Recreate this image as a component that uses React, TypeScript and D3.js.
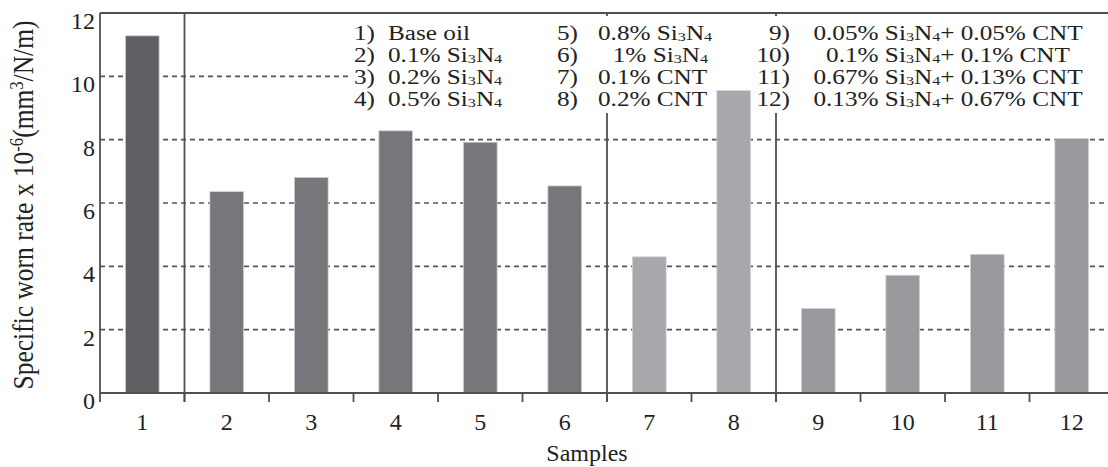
import React from "react";
import * as d3 from "d3";

const samples = ["1", "2", "3", "4", "5", "6", "7", "8", "9", "10", "11", "12"];
const wearRate = [11.28, 6.36, 6.81, 8.28, 7.92, 6.54, 4.3, 9.55, 2.67, 3.72, 4.38, 8.04];
const sampleGroup = [0, 1, 1, 1, 1, 1, 2, 2, 3, 3, 3, 3];
const groupColors = ["#5e6063", "#76777b", "#a6a8ab", "#97999c"];
const yTicks = [0, 2, 4, 6, 8, 10, 12];
const dividerAfter = ["1", "6", "8"];

const legendCol1 = ["Base oil", "0.1% Si_3N_4", "0.2% Si_3N_4", "0.5% Si_3N_4"];
const legendCol2 = ["0.8% Si_3N_4", "1% Si_3N_4", "0.1% CNT", "0.2% CNT"];
const legendCol3 = [
  "0.05% Si_3N_4+ 0.05% CNT",
  "0.1% Si_3N_4+ 0.1% CNT",
  "0.67% Si_3N_4+ 0.13% CNT",
  "0.13% Si_3N_4+ 0.67% CNT",
];

const W = 1108;
const H = 467;
const left = 100;
const top = 13;
const bottom = 393;
const FONT = "Liberation Serif, Times New Roman, serif";
const INK = "#222";
const AXIS = "#505050";

const LINE0 = 40;
const LINE_H = 22;
const SX = 1.23;
const LFS = 20.5;

function chemLine(str: string, lx: number, ly: number, anchor: string, key: string) {
  const parts = str.split(/(_\d)/).filter((p) => p.length > 0);
  return parts.map((p, i) => {
    const isSub = p.startsWith("_");
    const dy = isSub ? 1.5 : i > 0 && parts[i - 1].startsWith("_") ? -1.5 : 0;
    const props: any = { key: key + "-" + i };
    if (i === 0) {
      props.x = lx;
      props.y = ly;
      props.textAnchor = anchor;
    } else {
      props.dy = dy;
    }
    if (isSub) props.fontSize = "64%";
    return <tspan {...props}>{isSub ? p.slice(1) : p}</tspan>;
  });
}

function LegendColumn({
  items,
  firstNum,
  numX,
  textX,
  anchors,
  offsets,
}: {
  items: string[];
  firstNum: number;
  numX: number;
  textX: number;
  anchors: string[];
  offsets: number[];
}) {
  return (
    <g>
      <text
        transform={`translate(${numX},0) scale(${SX},1)`}
        textAnchor="end"
        fontFamily={FONT}
        fontSize={LFS}
        fill={INK}
      >
        {items.map((_, i) => (
          <tspan key={i} x={0} y={LINE0 + i * LINE_H}>
            {`${firstNum + i})`}
          </tspan>
        ))}
      </text>
      <text
        transform={`translate(${textX},0) scale(${SX},1)`}
        fontFamily={FONT}
        fontSize={LFS}
        fill={INK}
      >
        {items.map((t, i) =>
          chemLine(t, offsets[i] / SX, LINE0 + i * LINE_H, anchors[i], "r" + i)
        )}
      </text>
    </g>
  );
}

export default function App() {
  const x = d3.scaleBand<string>().domain(samples).range([left, 1114]).padding(0);
  const y = d3.scaleLinear().domain([0, 12]).range([bottom, top]);
  const bw = x.bandwidth();
  const barW = bw * 0.4;

  return (
    <svg
      width={W}
      height={H}
      style={{ position: "absolute", left: 0, top: 0, background: "#fff" }}
    >
      {yTicks
        .filter((t) => t > 0 && t < 12)
        .map((t) => (
          <line
            key={"g" + t}
            x1={left}
            x2={W}
            y1={y(t)}
            y2={y(t)}
            stroke="#555"
            strokeWidth={1.6}
            strokeDasharray="5,4"
          />
        ))}
      {dividerAfter.map((s) => {
        const xv = (x(s) as number) + bw;
        return (
          <line key={"d" + s} x1={xv} x2={xv} y1={top} y2={bottom + 9} stroke={AXIS} strokeWidth={1.8} />
        );
      })}
      <rect x={352} y={16} width={W - 352} height={97} fill="#fff" />
      {samples.map((s, i) => (
        <rect
          key={"b" + s}
          x={(x(s) as number) + (bw - barW) / 2}
          y={y(wearRate[i])}
          width={barW}
          height={bottom - y(wearRate[i])}
          fill={groupColors[sampleGroup[i]]}
          stroke="#d4d5d7"
          strokeWidth={0.8}
        />
      ))}
      <line x1={left} x2={W} y1={top} y2={top} stroke={AXIS} strokeWidth={1.8} />
      <line x1={left} x2={W} y1={bottom} y2={bottom} stroke={AXIS} strokeWidth={1.8} />
      <line x1={left} x2={left} y1={top} y2={bottom + 9} stroke={AXIS} strokeWidth={1.8} />
      {samples.slice(1).map((s) => {
        const xv = x(s) as number;
        return <line key={"t" + s} x1={xv} x2={xv} y1={bottom} y2={bottom + 9} stroke={AXIS} strokeWidth={1.8} />;
      })}
      {yTicks.map((t) => (
        <text
          key={"yl" + t}
          x={95}
          y={Math.max(y(t) + 16, 22)}
          textAnchor="end"
          fontFamily={FONT}
          fontSize={24}
          fill={INK}
        >
          {t}
        </text>
      ))}
      {samples.map((s) => (
        <text
          key={"xl" + s}
          x={(x(s) as number) + bw / 2}
          y={430}
          textAnchor="middle"
          fontFamily={FONT}
          fontSize={24}
          fill={INK}
        >
          {s}
        </text>
      ))}
      <text x={587} y={461} textAnchor="middle" fontFamily={FONT} fontSize={24} fill={INK}>
        Samples
      </text>
      <text
        transform={`translate(33,${(top + bottom) / 2 + 2}) rotate(-90) scale(1,1.15)`}
        textAnchor="middle"
        fontFamily={FONT}
        fontSize={25.5}
        fill={INK}
      >
        <tspan>Specific worn rate x 10</tspan>
        <tspan fontSize="65%" dy={-9}>-6</tspan>
        <tspan dy={9}>(mm</tspan>
        <tspan fontSize="65%" dy={-9}>3</tspan>
        <tspan dy={9}>/N/m)</tspan>
      </text>
      <LegendColumn
        items={legendCol1}
        firstNum={1}
        numX={375}
        textX={388}
        anchors={["start", "start", "start", "start"]}
        offsets={[0, 0, 0, 0]}
      />
      <LegendColumn
        items={legendCol2}
        firstNum={5}
        numX={578}
        textX={598}
        anchors={["start", "end", "start", "start"]}
        offsets={[0, 110, 0, 0]}
      />
      <LegendColumn
        items={legendCol3}
        firstNum={9}
        numX={790}
        textX={948}
        anchors={["middle", "middle", "middle", "middle"]}
        offsets={[0, 0, 0, 0]}
      />
    </svg>
  );
}
